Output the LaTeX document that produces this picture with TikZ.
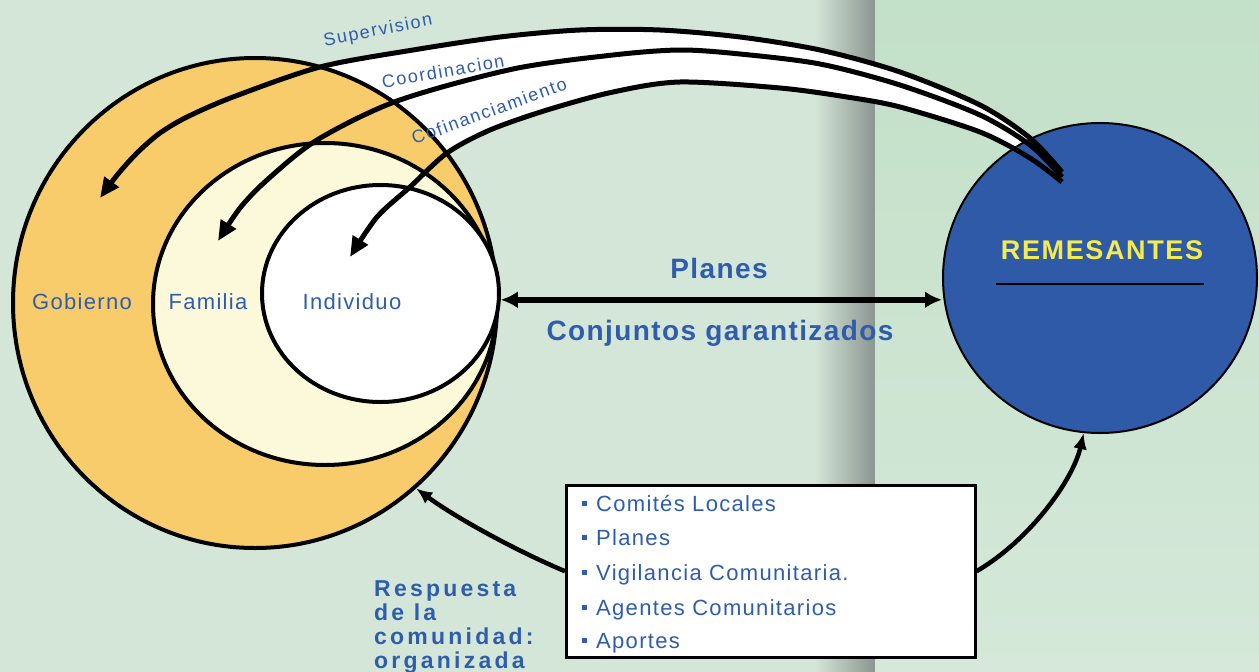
\documentclass[tikz,border=0pt]{standalone}
\usepackage{fontspec}
\setmainfont{Liberation Sans}
\newfontfamily\fLab[LetterSpace=6]{Liberation Sans}
\newfontfamily\fTop[LetterSpace=9]{Liberation Sans}
\newfontfamily\fBig[LetterSpace=5]{Liberation Sans}
\newfontfamily\fRem[LetterSpace=6]{Liberation Sans}
\newfontfamily\fResp[LetterSpace=14]{Liberation Sans}
\usetikzlibrary{shapes.geometric,arrows.meta}
\definecolor{bgL}{HTML}{D4E6D8}
\definecolor{bgD}{HTML}{8B9591}
\definecolor{bgRt}{HTML}{C3E0C8}
\definecolor{bgRb}{HTML}{D5E8D9}
\definecolor{gobc}{HTML}{F8CC6A}
\definecolor{famc}{HTML}{FCF8DA}
\definecolor{remc}{HTML}{2F5AA8}
\definecolor{txtblue}{HTML}{2F5DAE}
\definecolor{remy}{HTML}{F4EC4E}
\begin{document}
\begin{tikzpicture}[x=1pt,y=-1pt,
  circ/.style={ellipse, draw=black, line width=4pt, inner sep=0pt},
  arr/.style={line width=5pt, -{Triangle[length=20pt,width=17pt]}},
  barr/.style={line width=4.5pt, -{Latex[length=16pt,width=14pt]}},
  circlabel/.style={text=txtblue, inner sep=0pt, anchor=base, font=\fLab\fontsize{22}{26}\selectfont},
  toplbl/.style={text=txtblue, inner sep=0pt, font=\fTop\fontsize{18}{21}\selectfont},
  bigtxt/.style={text=txtblue, inner sep=0pt, anchor=base, font=\fBig\bfseries\fontsize{28}{32}\selectfont},
  resptxt/.style={text=txtblue, inner sep=0pt, anchor=base west, font=\fResp\bfseries\fontsize{23}{24}\selectfont},
  itemtxt/.style={text=txtblue, inner sep=0pt, anchor=base west, font=\fLab\fontsize{22}{26}\selectfont},
]
\useasboundingbox (0,0) rectangle (1259,672);
% background
\fill[bgL] (0,0) rectangle (816,672);
\shade[left color=bgL, right color=bgD] (815,0) rectangle (875,672);
\shade[top color=bgRt, bottom color=bgRb] (875,0) rectangle (1259,672);

% named points
\coordinate (s1) at (1062,172);
\coordinate (s2) at (1062,177);
\coordinate (s3) at (1062,182);
\coordinate (tG) at (100,198);
\coordinate (tF) at (218,241);
\coordinate (tI) at (350,257);

% white ribbon
\fill[white] plot[smooth] coordinates {(s1) (1030,138) (980,105) (900,72) (820,50) (740,37) (660,30) (580,30) (500,37) (413,50) (320,67) (233,97)}
  -- plot[smooth] coordinates {(410,187) (447,153) (490,130) (547,110) (613,92) (680,82) (780,88) (847,97) (900,107) (980,132) (1030,158) (s3)} -- cycle;

% circles
\node[circ, fill=gobc, minimum width=484pt, minimum height=490pt] (gob) at (255,303) {};
\node[circ, fill=famc, minimum width=344pt, minimum height=322pt] (fam) at (325,304) {};
\node[circ, fill=white, minimum width=237pt, minimum height=217pt] (ind) at (380.5,293.5) {};
\node[ellipse, draw=black, line width=2pt, fill=remc, inner sep=0pt, minimum width=314pt, minimum height=310pt] (rem) at (1100,278) {};

% top arrows
\draw[arr] plot[smooth] coordinates {(s1) (1030,138) (980,105) (900,72) (820,50) (740,37) (660,30) (580,30) (500,37) (413,50) (320,67) (233,97) (187,117) (160,133) (138,152) (118,174) (tG)};
\draw[arr] plot[smooth] coordinates {(s2) (1030,145) (980,115) (900,85) (820,64) (740,54) (680,50) (613,55) (513,69) (397,101) (317,140) (267,180) (240,208) (tF)};
\draw[arr] plot[smooth] coordinates {(s3) (1030,158) (980,132) (900,107) (847,97) (780,88) (680,82) (613,92) (547,110) (490,130) (447,153) (410,187) (377,217) (tI)};

% planes arrow
\draw[line width=6pt, {Latex[length=17pt,width=17pt]}-{Latex[length=17pt,width=17pt]}] (ind.-3) -- (ind.-3 -| rem.west);

% REMESANTES
\node[text=remy, inner sep=0pt, anchor=base, font=\fRem\bfseries\fontsize{27}{30}\selectfont] (remt) at (1102,259) {REMESANTES};
\draw[line width=2pt] (996,284) -- (1204,284);

% box
\node[draw=black, line width=2.5pt, fill=white, inner sep=0pt, minimum width=409pt, minimum height=172pt, anchor=north west] (box) at (565,484) {};
\draw[barr] (box.west) .. controls (510,548) and (452,515) .. (gob.-49);
\draw[barr] (box.east) .. controls (1030,540) and (1073,480) .. (rem.-96);

\node[itemtxt] (i1) at (582,511) {\rule[5.5pt]{5pt}{5pt}\hspace{9pt}Comités Locales};
\node[itemtxt] (i2) at (582,545) {\rule[5.5pt]{5pt}{5pt}\hspace{9pt}Planes};
\node[itemtxt] (i3) at (582,580) {\rule[5.5pt]{5pt}{5pt}\hspace{9pt}Vigilancia Comunitaria.};
\node[itemtxt] (i4) at (582,615) {\rule[5.5pt]{5pt}{5pt}\hspace{9pt}Agentes Comunitarios};
\node[itemtxt] (i5) at (582,648) {\rule[5.5pt]{5pt}{5pt}\hspace{9pt}Aportes};

% labels
\node[circlabel] (lg) at (82,309) {Gobierno};
\node[circlabel] (lf) at (208,309) {Familia};
\node[circlabel] (li) at (352,309) {Individuo};

\node[toplbl, rotate=11] (lsup) at (378,31) {Supervision};
\node[toplbl, rotate=10] (lcoo) at (443,71) {Coordinacion};
\node[toplbl, rotate=20] (lcof) at (489,111) {Cofinanciamiento};

\node[bigtxt] (lpl) at (719,278) {Planes};
\node[bigtxt] (lcg) at (720,340) {Conjuntos garantizados};

\node[resptxt] (r1) at (374,596) {Respuesta};
\node[resptxt] (r2) at (374,620) {de la};
\node[resptxt] (r3) at (374,644) {comunidad:};
\node[resptxt] (r4) at (374,668) {organizada};
\end{tikzpicture}
\end{document}
